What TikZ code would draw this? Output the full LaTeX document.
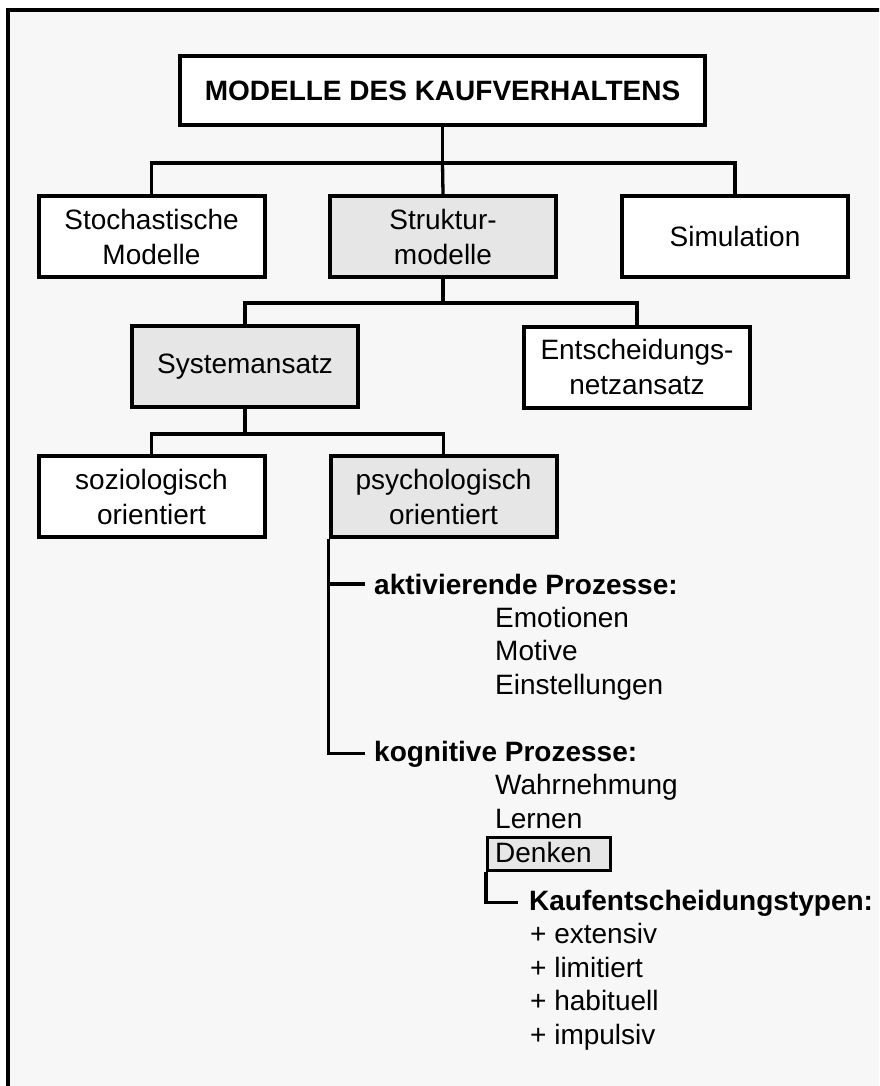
\documentclass[tikz,border=0pt]{standalone}
\usepackage{fontspec}
\setmainfont{Liberation Sans}
\definecolor{bgfill}{HTML}{F7F7F7}
\definecolor{boxgray}{HTML}{E6E6E6}
\begin{document}
\begin{tikzpicture}[x=1pt,y=-1pt,
  every node/.style={font=\fontsize{28}{35}\selectfont, inner sep=0pt},
  box/.style={draw, line width=4pt, fill=white, minimum width=226pt, minimum height=81pt, align=center},
  graybox/.style={box, fill=boxgray},
  conn/.style={line width=3.3pt},
  boldtext/.style={font=\fontsize{28}{35}\selectfont\bfseries},
]
\useasboundingbox (0,0) rectangle (879,1086);
\clip (0,0) rectangle (879,1086);
% frame
\fill[bgfill] (8,10) rectangle (900,1100);
\draw[line width=4pt] (8,1100) -- (8,10) -- (900,10);

% boxes
\node[box, boldtext, minimum width=525pt, minimum height=69pt] (title) at (442.5,90.5) {MODELLE DES KAUFVERHALTENS};
\node[box] (stoch) at (151.5,236.5) {Stochastische\\Modelle};
\node[graybox] (struk) at (443,236.5) {Struktur-\\modelle};
\node[box] (sim) at (735,236.5) {Simulation};
\node[graybox] (sys) at (245,366.5) {Systemansatz};
\node[box] (ent) at (637,367) {Entscheidungs-\\netzansatz};
\node[box] (soz) at (151.5,496.5) {soziologisch\\orientiert};
\node[graybox] (psy) at (443.5,496.5) {psychologisch\\orientiert};

% tree connectors
\draw[conn] (title.south) -- ++(0,36) coordinate (j1);
\draw[conn] (stoch.north) |- (j1) -| (sim.north);
\draw[conn] (j1) -- (struk.north);
\draw[conn] (struk.south) -- ++(0,24) coordinate (j2);
\draw[conn] (sys.north) |- (j2) -| (ent.north);
\draw[conn] (sys.south) -- ++(0,25) coordinate (j3);
\draw[conn] (soz.north) |- (j3) -| (psy.north);

% psychological branch
\node[boldtext, anchor=base west] (akt) at (374,594) {aktivierende Prozesse:};
\node[anchor=base west] (emo) at (495,627) {Emotionen};
\node[anchor=base west] (mot) at (495,660.5) {Motive};
\node[anchor=base west] (einst) at (495,694) {Einstellungen};
\node[boldtext, anchor=base west] (kog) at (374,761) {kognitive Prozesse:};
\node[anchor=base west] (wahr) at (495,794.5) {Wahrnehmung};
\node[anchor=base west] (lern) at (495,828) {Lernen};
\node[draw, line width=3pt, fill=boxgray, minimum width=123pt, minimum height=33pt, anchor=north west] (denkbox) at (486,836) {};
\node[anchor=base west] (denk) at (495,862) {Denken};
\node[boldtext, anchor=base west] (kauf) at (529,910) {Kaufentscheidungstypen:};
\node[anchor=base west] (ext) at (530,943.5) {+ extensiv};
\node[anchor=base west] (lim) at (530,977) {+ limitiert};
\node[anchor=base west] (hab) at (530,1010.5) {+ habituell};
\node[anchor=base west] (imp) at (530,1044) {+ impulsiv};

\draw[conn] (psy.south west) |- ([xshift=-9pt]kog.west);
\draw[conn] (psy.south west |- akt.west) -- ([xshift=-9pt]akt.west);
\draw[conn] (denkbox.south west) |- ([xshift=-11pt]kauf.west);
\end{tikzpicture}
\end{document}
